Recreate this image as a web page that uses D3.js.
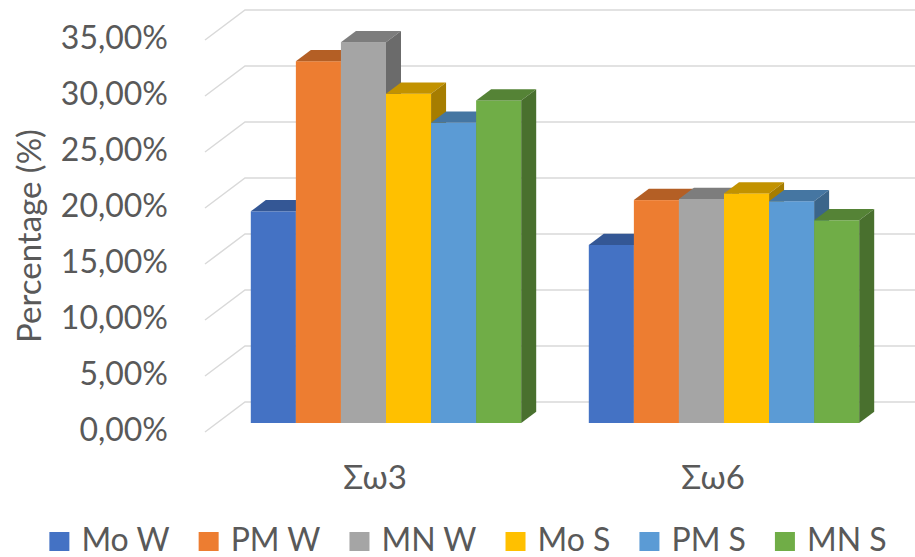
<!DOCTYPE html>
<html>
<head>
<meta charset="utf-8">
<script src="https://cdn.jsdelivr.net/npm/d3@7"></script>
<style>
  html, body { margin: 0; padding: 0; background: #ffffff; }
  svg { display: block; font-family: Lato, "Open Sans", sans-serif; }
</style>
</head>
<body>
<svg id="chart" width="915" height="557"></svg>
<script>
// Omega fatty acid share per group
const categories = ["Σω3", "Σω6"];
const seriesNames = ["Mo W", "PM W", "MN W", "Mo S", "PM S", "MN S"];
const moW = [18.9, 15.9];
const pmW = [32.3, 19.9];
const mnW = [34.0, 20.0];
const moS = [29.4, 20.5];
const pmS = [26.8, 19.8];
const mnS = [28.8, 18.1];
const seriesValues = [moW, pmW, mnW, moS, pmS, mnS];
const tickValues = [0, 5, 10, 15, 20, 25, 30, 35];
const tickLabels = ["0,00%", "5,00%", "10,00%", "15,00%", "20,00%", "25,00%", "30,00%", "35,00%"];

const colors = ["#4472C4", "#ED7D31", "#A5A5A5", "#FFC000", "#5B9BD5", "#70AD47"];
const textColor = "#595959";
const gridColor = "#d9d9d9";

const svg = d3.select("#chart");

// front plane of the 3-D box and its depth offset
const frontLeft = 205, frontRight = 881;
const depthX = 40, depthY = -30;
const barFront = 0.3, barDepth = 0.375;

const y = d3.scaleLinear().domain([0, 35]).range([432, 40]);
const x0 = d3.scaleBand().domain(categories).range([frontLeft, frontRight]).padding(0);
const x1 = d3.scaleBand().domain(seriesNames).range([0, x0.bandwidth()]).paddingInner(0).paddingOuter(0.75);

// gridlines: side wall diagonal then back wall
svg.append("g").selectAll("path").data(tickValues).join("path")
  .attr("d", t => {
    const yf = y(t);
    return `M${frontLeft},${yf}L${frontLeft + depthX},${yf + depthY}L${frontRight + depthX},${yf + depthY}`;
  })
  .attr("fill", "none")
  .attr("stroke", gridColor)
  .attr("stroke-width", 1.5);

// value axis labels
svg.append("g").selectAll("text").data(tickValues).join("text")
  .attr("x", 168)
  .attr("y", t => y(t) + 1)
  .attr("text-anchor", "end")
  .attr("dominant-baseline", "middle")
  .attr("fill", textColor)
  .attr("font-size", 32)
  .text((t, i) => tickLabels[i]);

// axis title
svg.append("text")
  .attr("transform", "translate(33,236) rotate(-90)")
  .attr("text-anchor", "middle")
  .attr("dominant-baseline", "middle")
  .attr("fill", textColor)
  .attr("font-size", 33)
  .text("Percentage (%)");

function shade(c, k) {
  const col = d3.rgb(c);
  return d3.rgb(col.r * k, col.g * k, col.b * k).formatHex();
}

// bars: front, top and right faces, painted left to right
const fx = barFront * depthX, fy = barFront * depthY;
const dx = barDepth * depthX, dy = barDepth * depthY;
const bars = [];
categories.forEach((c, ci) => {
  seriesNames.forEach((s, si) => {
    bars.push({ ci, si, v: seriesValues[si][ci] });
  });
});

const g = svg.append("g");
bars.forEach(b => {
  const xl = x0(categories[b.ci]) + x1(seriesNames[b.si]) + fx;
  const xr = xl + x1.bandwidth();
  const yb = y(0) + fy;
  const yt = y(b.v) + fy;
  const col = colors[b.si];
  g.append("rect")
    .attr("x", xl).attr("y", yt)
    .attr("width", xr - xl).attr("height", yb - yt)
    .attr("fill", col);
  g.append("path")
    .attr("d", `M${xl},${yt}L${xl + dx},${yt + dy}L${xr + dx},${yt + dy}L${xr},${yt}Z`)
    .attr("fill", shade(col, 0.76));
  g.append("path")
    .attr("d", `M${xr},${yt}L${xr + dx},${yt + dy}L${xr + dx},${yb + dy}L${xr},${yb}Z`)
    .attr("fill", shade(col, 0.65));
});

// category labels
svg.append("g").selectAll("text").data(categories).join("text")
  .attr("x", c => x0(c) + x0.bandwidth() / 2 + 1)
  .attr("y", 481)
  .attr("text-anchor", "middle")
  .attr("dominant-baseline", "middle")
  .attr("fill", textColor)
  .attr("font-size", 33)
  .text(c => c);

// legend, laid out from measured label widths and centred
const legend = svg.append("g");
const sq = 20, gapText = 12, gapItem = 29;
let cx = 0;
seriesNames.forEach((s, i) => {
  const item = legend.append("g").attr("transform", `translate(${cx},0)`);
  item.append("rect").attr("x", 0).attr("y", -10).attr("width", sq).attr("height", sq - 1).attr("fill", colors[i]);
  const t = item.append("text")
    .attr("x", sq + gapText)
    .attr("y", 1)
    .attr("dominant-baseline", "middle")
    .attr("fill", textColor)
    .attr("font-size", 32)
    .text(s);
  const w = t.node().getComputedTextLength();
  cx += sq + gapText + w + gapItem;
});
const total = cx - gapItem;
legend.attr("transform", `translate(${468 - total / 2},542)`);
</script>
</body>
</html>
